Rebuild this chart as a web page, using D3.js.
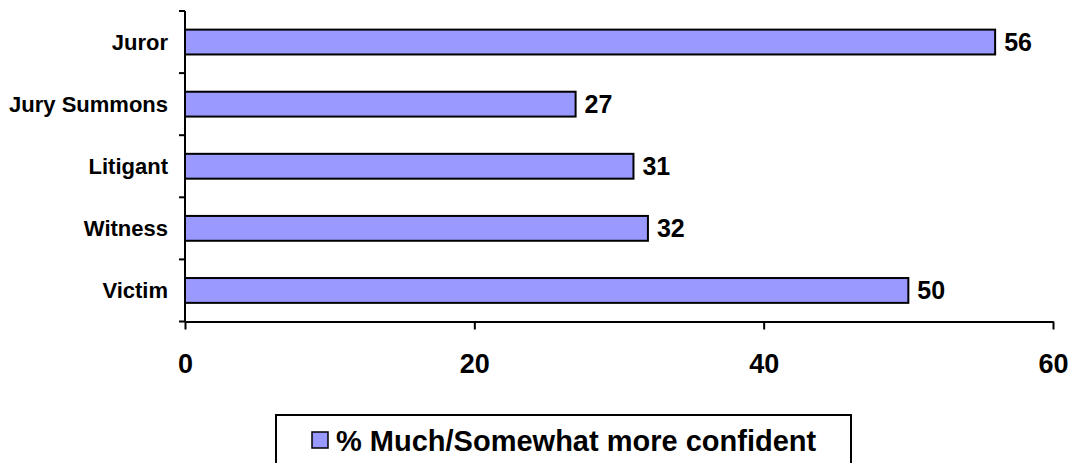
<!DOCTYPE html>
<html>
<head>
<meta charset="utf-8">
<script src="https://cdn.jsdelivr.net/npm/d3@7"></script>
<style>
  html, body { margin: 0; padding: 0; background: #fff; }
  svg { display: block; font-family: Arial, "Liberation Sans", sans-serif; font-weight: bold; }
</style>
</head>
<body>
<svg id="chart" width="1072" height="463"></svg>
<script>
// Categories, top to bottom
const categories = ["Juror", "Jury Summons", "Litigant", "Witness", "Victim"];
// % Much/Somewhat more confident
const values = [56, 27, 31, 32, 50];
const xTicks = [0, 20, 40, 60];
const seriesName = "% Much/Somewhat more confident";

const svg = d3.select("#chart");
const plot = { left: 185, right: 1053, top: 11, bottom: 321.5 };
const barFill = "#9999FF";

const x = d3.scaleLinear().domain([0, 60]).range([plot.left, plot.right]);
const y = d3.scaleBand().domain(categories).range([plot.top, plot.bottom])
  .paddingInner(0.6).paddingOuter(0.3);

// Bars
svg.append("g").selectAll("rect")
  .data(categories.map((c, i) => ({ c, v: values[i] })))
  .join("rect")
  .attr("x", x(0))
  .attr("y", d => y(d.c))
  .attr("width", d => x(d.v) - x(0))
  .attr("height", y.bandwidth())
  .attr("fill", barFill)
  .attr("stroke", "#000")
  .attr("stroke-width", 2);

// Value labels at bar ends
svg.append("g").selectAll("text")
  .data(categories.map((c, i) => ({ c, v: values[i] })))
  .join("text")
  .attr("x", d => x(d.v) + 9)
  .attr("y", d => y(d.c) + y.bandwidth() / 2 + 9)
  .attr("font-size", 25)
  .attr("fill", "#000")
  .text(d => d.v);

// Category axis: line, ticks at band boundaries, labels centred on bands
const yAxis = svg.append("g");
yAxis.append("line")
  .attr("x1", x(0)).attr("x2", x(0))
  .attr("y1", plot.top).attr("y2", plot.bottom)
  .attr("stroke", "#000").attr("stroke-width", 2);
const bounds = d3.range(categories.length + 1).map(i => plot.top + i * y.step());
yAxis.selectAll("line.tick").data(bounds).join("line")
  .attr("class", "tick")
  .attr("x1", x(0) - 6).attr("x2", x(0))
  .attr("y1", d => d).attr("y2", d => d)
  .attr("stroke", "#000").attr("stroke-width", 2);
yAxis.selectAll("text").data(categories).join("text")
  .attr("x", x(0) - 17)
  .attr("y", d => y(d) + y.bandwidth() / 2 + 8)
  .attr("text-anchor", "end")
  .attr("font-size", 22)
  .attr("fill", "#000")
  .text(d => d);

// Value axis
const xAxis = svg.append("g")
  .attr("transform", `translate(0,${plot.bottom})`)
  .call(d3.axisBottom(x).tickValues(xTicks).tickSize(8).tickSizeOuter(0).tickPadding(24));
xAxis.select(".domain").attr("stroke", "#000").attr("stroke-width", 2);
xAxis.selectAll(".tick line").attr("stroke", "#000").attr("stroke-width", 2);
xAxis.selectAll(".tick text")
  .attr("font-size", 27)
  .attr("font-family", "Arial, 'Liberation Sans', sans-serif")
  .attr("font-weight", "bold")
  .attr("fill", "#000");

// Legend
const legend = svg.append("g");
legend.append("rect")
  .attr("x", 276).attr("y", 415)
  .attr("width", 575).attr("height", 60)
  .attr("fill", "#fff").attr("stroke", "#000").attr("stroke-width", 2);
legend.append("rect")
  .attr("x", 312).attr("y", 432)
  .attr("width", 16).attr("height", 16)
  .attr("fill", barFill).attr("stroke", "#000").attr("stroke-width", 1.5);
legend.append("text")
  .attr("x", 336).attr("y", 451)
  .attr("font-size", 29)
  .attr("fill", "#000")
  .text(seriesName);
</script>
</body>
</html>
